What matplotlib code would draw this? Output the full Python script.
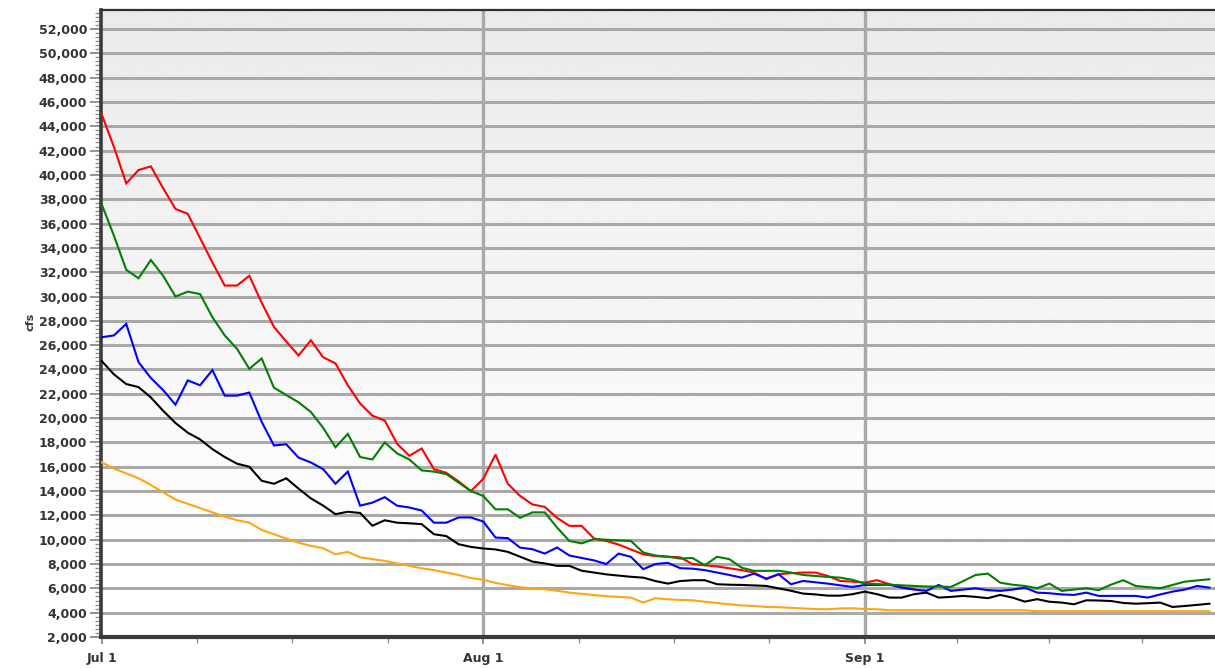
import datetime as dt
import numpy as np
import matplotlib
matplotlib.use("Agg")
import matplotlib.pyplot as plt
import matplotlib.dates as mdates
from matplotlib.ticker import FixedLocator, MultipleLocator, FuncFormatter

# ---------------- data (day offset from Jul 1, cfs) ----------------
red_days = list(range(0, 67))
red_vals = [45000, 42300, 39300, 40400, 40700, 38900, 37200, 36800, 34800, 32800,
            30900, 30900, 31700, 29500, 27500, 26300, 25150, 26400, 25000, 24500,
            22700, 21200, 20200, 19800, 17900, 16900, 17500, 15800, 15500, 14800,
            14000, 15000, 17000, 14600, 13600, 12900, 12700, 11800, 11140, 11140,
            10100, 9900, 9600, 9200, 8800, 8650, 8600, 8550, 8000, 7900,
            7800, 7650, 7500, 7300, 6750, 7160, 7250, 7300, 7300, 7020,
            6610, 6550, 6470, 6670, 6340, 6100, 5950]

green_days = list(range(0, 91))
green_vals = [37600, 35000, 32200, 31500, 33000, 31700, 30000, 30400, 30200, 28300,
              26800, 25700, 24050, 24900, 22500, 21900, 21300, 20500, 19200, 17600,
              18700, 16800, 16600, 18000, 17100, 16600, 15700, 15600, 15400, 14700,
              14000, 13600, 12500, 12500, 11800, 12250, 12250, 11000, 9900, 9700,
              10050, 10000, 9950, 9900, 8950, 8700, 8600, 8450, 8500, 7900,
              8600, 8400, 7700, 7440, 7440, 7450, 7300, 7100, 7020, 6940,
              6880, 6700, 6400, 6350, 6300, 6250, 6200, 6150, 6150, 6120,
              6600, 7100, 7210, 6470, 6300, 6200, 6010, 6390, 5790, 5900,
              6010, 5850, 6300, 6670, 6200, 6100, 6010, 6280, 6550, 6650,
              6750]

blue_days = list(range(0, 91))
blue_vals = [26650, 26800, 27750, 24600, 23300, 22300, 21100, 23100, 22700, 23950,
             21850, 21850, 22100, 19700, 17750, 17850, 16750, 16350, 15800, 14600,
             15600, 12800, 13050, 13500, 12800, 12650, 12400, 11400, 11400, 11830,
             11830, 11500, 10180, 10130, 9350, 9220, 8860, 9360, 8700, 8500,
             8300, 8000, 8860, 8590, 7580, 8000, 8100, 7660, 7620, 7500,
             7300, 7100, 6880, 7210, 6800, 7160, 6340, 6610, 6500, 6390,
             6250, 6120, 6280, 6280, 6300, 6060, 5900, 5790, 6280, 5790,
             5900, 6010, 5850, 5790, 5900, 6060, 5650, 5600, 5500, 5460,
             5650, 5380, 5380, 5380, 5380, 5240, 5500, 5730, 5900, 6200,
             6060]

black_days = list(range(0, 91))
black_vals = [24700, 23600, 22800, 22550, 21700, 20600, 19600, 18800, 18250, 17450,
              16800, 16250, 16000, 14850, 14600, 15050, 14200, 13400, 12800, 12100,
              12300, 12200, 11150, 11600, 11400, 11350, 11280, 10450, 10300, 9630,
              9410, 9280, 9200, 9000, 8600, 8200, 8050, 7850, 7850, 7450,
              7300, 7150, 7050, 6950, 6880, 6600, 6390, 6600, 6670, 6670,
              6340, 6300, 6280, 6240, 6200, 6000, 5800, 5570, 5500, 5400,
              5400, 5520, 5730, 5520, 5240, 5240, 5520, 5650, 5240, 5300,
              5380, 5300, 5190, 5460, 5240, 4910, 5110, 4900, 4830, 4690,
              5020, 5000, 4960, 4800, 4740, 4780, 4830, 4470, 4550, 4640,
              4740]

orange_days = list(range(0, 91))
orange_vals = [16360, 15850, 15450, 15050, 14500, 13900, 13300, 12950, 12600, 12250,
               11900, 11600, 11400, 10800, 10450, 10100, 9750, 9500, 9300, 8800,
               9000, 8550, 8400, 8260, 8050, 7850, 7650, 7500, 7300, 7100,
               6850, 6700, 6450, 6260, 6100, 5980, 5930, 5800, 5650, 5550,
               5450, 5350, 5300, 5240, 4830, 5190, 5100, 5050, 5020, 4900,
               4800, 4690, 4600, 4550, 4470, 4450, 4400, 4350, 4300, 4280,
               4350, 4360, 4300, 4280, 4200, 4200, 4200, 4200, 4200, 4200,
               4200, 4200, 4200, 4200, 4200, 4200, 4120, 4120, 4120, 4120,
               4120, 4120, 4120, 4120, 4120, 4120, 4120, 4120, 4120, 4120,
               4120]

series = [
    ("orange", orange_days, orange_vals, "#ffa510"),
    ("black", black_days, black_vals, "#000000"),
    ("red", red_days, red_vals, "#ff0000"),
    ("blue", blue_days, blue_vals, "#0000ff"),
    ("green", green_days, green_vals, "#008000"),
]

y_ticks = list(range(2000, 52001, 2000))
month_labels = ["Jul 1", "Aug 1", "Sep 1"]

# ---------------- figure ----------------
W, H, DPI = 1215, 668, 100
fig = plt.figure(figsize=(W / DPI, H / DPI), dpi=DPI)
fig.patch.set_facecolor("white")
ax = fig.add_axes([101 / W, 1 - 637 / H, 1 - 101 / W + 0.002, (637 - 10) / H])

start = dt.datetime(2015, 7, 1)
def to_dates(days):
    return [start + dt.timedelta(days=d) for d in days]

x0 = mdates.date2num(start) - 0.05
x1 = mdates.date2num(start) + 90.65
y0, y1 = 2000, 53560

# background gradient (light grey at top -> white at bottom)
yy = np.linspace(y1, y0, 400)
g = 0.918 + 0.082 * np.clip((y1 - yy) / (y1 - 7400), 0, 1)
ax.imshow(g.reshape(-1, 1), extent=[x0, x1, y0, y1], aspect="auto",
          cmap="gray", vmin=0, vmax=1, zorder=0, interpolation="bilinear")

# gridlines
for v in y_ticks[1:]:
    ax.axhline(v, color="#a9a9a9", lw=2.2, zorder=1)
months = [dt.datetime(2015, 7, 1), dt.datetime(2015, 8, 1), dt.datetime(2015, 9, 1)]
for m in months[1:]:
    ax.axvline(mdates.date2num(m), color="#a9a9a9", lw=2.4, zorder=1)

for name, d, v, c in series:
    ax.plot(to_dates(d), v, color=c, lw=1.5, zorder=3, solid_joinstyle="miter")

ax.set_xlim(x0, x1)
ax.set_ylim(y0, y1)

# y ticks
ax.yaxis.set_major_locator(FixedLocator(y_ticks))
ax.yaxis.set_minor_locator(MultipleLocator(2000 / 6))
ax.yaxis.set_major_formatter(FuncFormatter(lambda v, p: f"{int(v):,}"))
ax.tick_params(axis="y", which="major", length=8, width=1.2, color="#808080",
               pad=2, labelsize=9, labelcolor="#333333")
ax.tick_params(axis="y", which="minor", length=4, width=1.0, color="#909090")
for lab in ax.get_yticklabels():
    lab.set_fontweight("bold")

# x ticks
mnums = [mdates.date2num(m) for m in months]
ax.xaxis.set_major_locator(FixedLocator(mnums))
ax.set_xticklabels(month_labels)
mlen = [31, 31, 30]
minor = []
for m, n in zip(mnums, mlen):
    minor += [m + n * k / 4 for k in (1, 2, 3)]
ax.xaxis.set_minor_locator(FixedLocator(minor))
ax.tick_params(axis="x", which="major", length=5, width=1.2, color="#808080",
               pad=6, labelsize=9, labelcolor="#333333")
ax.tick_params(axis="x", which="minor", length=4, width=1.0, color="#909090")
for lab in ax.get_xticklabels():
    lab.set_fontweight("bold")

# spines
ax.spines["left"].set_color("#3c3c3c")
ax.spines["left"].set_linewidth(2.6)
ax.spines["bottom"].set_color("#3c3c3c")
ax.spines["bottom"].set_linewidth(3.0)
ax.spines["top"].set_color("#303030")
ax.spines["top"].set_linewidth(1.6)
ax.spines["right"].set_visible(False)

fig.text(31 / W, 1 - 322 / H, "cfs", rotation=90, ha="center", va="center",
         fontsize=8, fontweight="bold", color="#333333")

fig.savefig("out.png", dpi=DPI, facecolor="white")
